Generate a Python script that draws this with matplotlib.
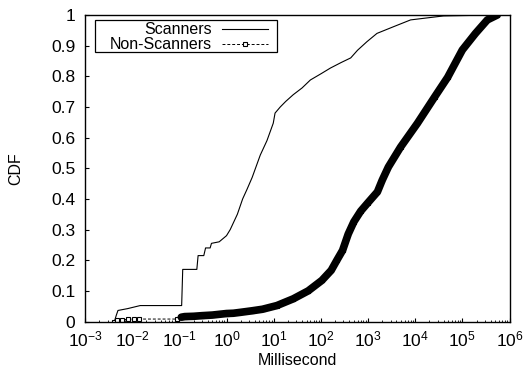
import matplotlib
matplotlib.use("Agg")
import matplotlib.pyplot as plt
from matplotlib.lines import Line2D
from matplotlib.patches import Rectangle
from matplotlib.ticker import LogLocator, FixedLocator, NullFormatter

plt.rcParams['font.family'] = ['Liberation Sans', 'DejaVu Sans']
plt.rcParams['font.size'] = 12

# Scanners CDF (ms, CDF)
scan_x = [0.0042, 0.0046, 0.005, 0.008, 0.0148, 0.112, 0.118, 0.235, 0.25, 0.33, 0.36, 0.45,
          0.48, 0.7, 1.0, 1.2, 1.7, 2.2, 2.7, 3.5, 5.2, 7.2, 9.8, 10.7, 13.8, 18, 26, 40,
          60, 100, 160, 270, 430, 600, 950, 1550, 3500, 8000, 40000, 460000]
scan_y = [0.0, 0.02, 0.036, 0.042, 0.052, 0.052, 0.17, 0.17, 0.215, 0.215, 0.24, 0.24,
          0.255, 0.26, 0.28, 0.30, 0.35, 0.40, 0.43, 0.47, 0.543, 0.59, 0.647, 0.68, 0.70,
          0.718, 0.74, 0.762, 0.788, 0.808, 0.827, 0.845, 0.86, 0.885, 0.913, 0.94, 0.962,
          0.984, 0.997, 1.0]

# Non-Scanners CDF (ms, CDF)
ns_x = [0.0042, 0.0048, 0.006, 0.008, 0.011, 0.014, 0.09, 0.11, 0.13, 0.2, 0.3, 0.5,
        1.0, 1.4, 2.0, 3.5, 5.8, 11.7, 26, 54, 105, 166, 219, 289, 380, 500, 700, 977,
        1585, 2000, 2700, 4900, 11200, 25700, 49000, 100000, 190000, 339000, 550000]
ns_y = [0.0, 0.005, 0.006, 0.007, 0.008, 0.008, 0.008, 0.014, 0.016, 0.017, 0.019, 0.021,
        0.026, 0.027, 0.03, 0.035, 0.040, 0.052, 0.074, 0.10, 0.134, 0.167, 0.20, 0.232,
        0.285, 0.325, 0.36, 0.386, 0.423, 0.461, 0.504, 0.569, 0.647, 0.732, 0.797, 0.886,
        0.94, 0.984, 1.0]

y_ticks = [0, 0.1, 0.2, 0.3, 0.4, 0.5, 0.6, 0.7, 0.8, 0.9, 1]
y_labels = ["0", "0.1", "0.2", "0.3", "0.4", "0.5", "0.6", "0.7", "0.8", "0.9", "1"]
series_names = ["Scanners", "Non-Scanners"]

fig = plt.figure(figsize=(5.23, 3.71), dpi=100)
ax = fig.add_axes([85 / 523, (371 - 321.5) / 371, 424.5 / 523, 306.5 / 371])

ax.plot(scan_x, scan_y, color='black', lw=0.8)
ax.plot(ns_x, ns_y, color='black', lw=0.7, ls=(0, (3, 2)), marker='s', ms=3.5,
        mfc='white', mec='black', mew=0.8)
i0 = ns_x.index(0.11)
ax.plot(ns_x[i0:], ns_y[i0:], color='black', lw=5.5, solid_capstyle='round',
        solid_joinstyle='round')

ax.set_xscale('log')
ax.set_xlim(1e-3, 1e6)
ax.set_ylim(0, 1)
ax.xaxis.set_major_locator(LogLocator(base=10, numticks=20))
ax.xaxis.set_minor_locator(LogLocator(base=10, subs=range(2, 10), numticks=100))
ax.xaxis.set_minor_formatter(NullFormatter())
ax.yaxis.set_major_locator(FixedLocator(y_ticks))
ax.set_yticklabels(y_labels)
ax.tick_params(which='major', direction='in', length=3, width=0.8, labelsize=12.5)
ax.tick_params(which='minor', direction='in', length=1.5, width=0.6)
ax.tick_params(axis='x', pad=5.5)
ax.tick_params(axis='y', pad=7)
for s in ax.spines.values():
    s.set_linewidth(1.0)

ax.set_xlabel("Millisecond", fontsize=11.5, labelpad=3)
ax.set_ylabel("CDF", fontsize=11.5, labelpad=20)

# gnuplot-style legend
ax.add_patch(Rectangle((0.0236, 0.879), 0.4284, 0.1047, transform=ax.transAxes,
                       fill=False, lw=0.9, color='black', zorder=5))
ax.text(0.299, 0.953, series_names[0], transform=ax.transAxes, ha='right', va='center',
        fontsize=11.5)
ax.text(0.299, 0.905, series_names[1], transform=ax.transAxes, ha='right', va='center',
        fontsize=11.5)
ax.add_line(Line2D([0.323, 0.431], [0.953, 0.953], transform=ax.transAxes, color='black',
                   lw=0.8))
ax.add_line(Line2D([0.323, 0.431], [0.905, 0.905], transform=ax.transAxes, color='black',
                   lw=0.7, ls=(0, (3, 2))))
ax.add_line(Line2D([0.377], [0.905], transform=ax.transAxes, marker='s', ms=3.5,
                   mfc='white', mec='black', mew=0.8, ls='none'))

fig.savefig("out.png", dpi=100)
